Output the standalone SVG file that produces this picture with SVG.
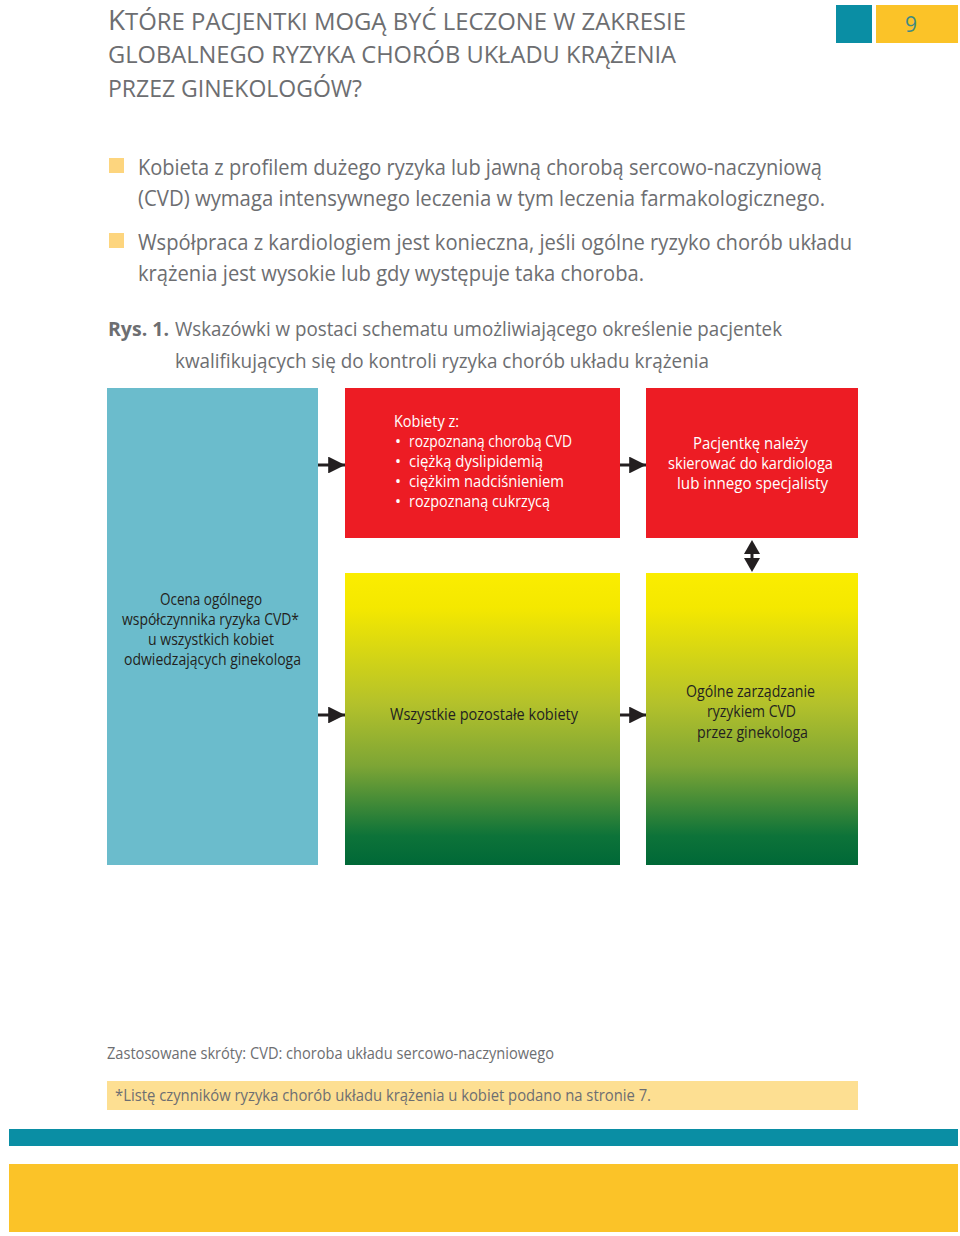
<svg xmlns="http://www.w3.org/2000/svg" width="960" height="1236" viewBox="0 0 960 1236">
<style>
.t{font-family:"Liberation Sans Narrow","Open Sans","Liberation Sans",sans-serif;}
.title{fill:#6d6e71;font-size:24px;font-weight:500;}
.body{fill:#6d6e71;font-size:21px;}
.cap{fill:#6d6e71;font-size:20px;}
.w{fill:#ffffff;font-size:16px;font-weight:500;}
.d{fill:#231f20;font-size:16px;font-weight:500;}
.foot{fill:#6d6e71;font-size:16px;}
.conn{stroke:#231f20;stroke-width:3;fill:none;}
.head{fill:#231f20;}
</style>
<defs>
<linearGradient id="yg" x1="0" y1="0" x2="0" y2="1">
<stop offset="0" stop-color="#fbed00"/>
<stop offset="0.12" stop-color="#f4e800"/>
<stop offset="0.45" stop-color="#b3c12b"/>
<stop offset="0.66" stop-color="#7da535"/>
<stop offset="0.9" stop-color="#0d7339"/>
<stop offset="1" stop-color="#006837"/>
</linearGradient>
<marker id="ah" viewBox="0 0 10 10" refX="10" refY="5" markerWidth="6" markerHeight="5.6" markerUnits="strokeWidth" orient="auto-start-reverse">
<path d="M0,0 L10,5 L0,10 Z" fill="#231f20"/>
</marker>
</defs>

<!-- header -->
<rect x="836" y="5" width="36" height="38" fill="#0a8ea4"/>
<rect x="876" y="5" width="82" height="38" fill="#fbc328"/>
<text class="t" x="911" y="32" text-anchor="middle" font-size="21" fill="#3f8a84">9</text>

<text class="t title" x="108" y="30" textLength="578" lengthAdjust="spacingAndGlyphs"><tspan font-size="28">K</tspan>TÓRE PACJENTKI MOGĄ BYĆ LECZONE W ZAKRESIE</text>
<text class="t title" x="108" y="63" textLength="568" lengthAdjust="spacingAndGlyphs">GLOBALNEGO RYZYKA CHORÓB UKŁADU KRĄŻENIA</text>
<text class="t title" x="108" y="97" textLength="254" lengthAdjust="spacingAndGlyphs">PRZEZ GINEKOLOGÓW?</text>

<!-- bullets -->
<rect x="109" y="158" width="15" height="15" fill="#fdd57e"/>
<text class="t body" x="138" y="175" textLength="684" lengthAdjust="spacingAndGlyphs">Kobieta z profilem dużego ryzyka lub jawną chorobą sercowo-naczyniową</text>
<text class="t body" x="138" y="206" textLength="687" lengthAdjust="spacingAndGlyphs">(CVD) wymaga intensywnego leczenia w tym leczenia farmakologicznego.</text>
<rect x="109" y="233" width="15" height="15" fill="#fdd57e"/>
<text class="t body" x="138" y="250" textLength="714" lengthAdjust="spacingAndGlyphs">Współpraca z kardiologiem jest konieczna, jeśli ogólne ryzyko chorób układu</text>
<text class="t body" x="138" y="281" textLength="506" lengthAdjust="spacingAndGlyphs">krążenia jest wysokie lub gdy występuje taka choroba.</text>

<!-- caption -->
<text class="t cap" x="108" y="336" font-weight="bold" textLength="61" lengthAdjust="spacingAndGlyphs">Rys. 1.</text>
<text class="t cap" x="175" y="336" textLength="607" lengthAdjust="spacingAndGlyphs">Wskazówki w postaci schematu umożliwiającego określenie pacjentek</text>
<text class="t cap" x="175" y="368" textLength="534" lengthAdjust="spacingAndGlyphs">kwalifikujących się do kontroli ryzyka chorób układu krążenia</text>

<!-- connectors -->
<g id="connectors">
<line class="conn" x1="318" y1="465" x2="345" y2="465" marker-end="url(#ah)"/>
<line class="conn" x1="620" y1="465" x2="646" y2="465" marker-end="url(#ah)"/>
<line class="conn" x1="318" y1="715" x2="345" y2="715" marker-end="url(#ah)"/>
<line class="conn" x1="620" y1="715" x2="646" y2="715" marker-end="url(#ah)"/>
<line class="conn" x1="752" y1="550" x2="752" y2="562"/>
<path class="head" d="M752,540 L760,554 L744,554 Z"/>
<path class="head" d="M752,572 L760,558 L744,558 Z"/>
</g>

<!-- nodes -->
<g id="assess">
<rect x="107" y="388" width="211" height="477" fill="#6bbccc"/>
<text class="t d" x="160" y="605" textLength="102" lengthAdjust="spacingAndGlyphs">Ocena ogólnego</text>
<text class="t d" x="122" y="625" textLength="177" lengthAdjust="spacingAndGlyphs">współczynnika ryzyka CVD*</text>
<text class="t d" x="148" y="645" textLength="126" lengthAdjust="spacingAndGlyphs">u wszystkich kobiet</text>
<text class="t d" x="124" y="665" textLength="177" lengthAdjust="spacingAndGlyphs">odwiedzających ginekologa</text>
</g>

<g id="highrisk">
<rect x="345" y="388" width="275" height="150" fill="#ed1c24"/>
<text class="t w" x="394" y="427" textLength="65" lengthAdjust="spacingAndGlyphs">Kobiety z:</text>
<text class="t w" x="395" y="447">•</text>
<text class="t w" x="409" y="447" textLength="163" lengthAdjust="spacingAndGlyphs">rozpoznaną chorobą CVD</text>
<text class="t w" x="395" y="467">•</text>
<text class="t w" x="409" y="467" textLength="134" lengthAdjust="spacingAndGlyphs">ciężką dyslipidemią</text>
<text class="t w" x="395" y="487">•</text>
<text class="t w" x="409" y="487" textLength="155" lengthAdjust="spacingAndGlyphs">ciężkim nadciśnieniem</text>
<text class="t w" x="395" y="507">•</text>
<text class="t w" x="409" y="507" textLength="141" lengthAdjust="spacingAndGlyphs">rozpoznaną cukrzycą</text>
</g>

<g id="refer">
<rect x="646" y="388" width="212" height="150" fill="#ed1c24"/>
<text class="t w" x="693" y="449" textLength="115" lengthAdjust="spacingAndGlyphs">Pacjentkę należy</text>
<text class="t w" x="668" y="469" textLength="165" lengthAdjust="spacingAndGlyphs">skierować do kardiologa</text>
<text class="t w" x="677" y="489" textLength="151" lengthAdjust="spacingAndGlyphs">lub innego specjalisty</text>
</g>

<g id="others">
<rect x="345" y="573" width="275" height="292" fill="url(#yg)"/>
<text class="t d" x="390" y="720" textLength="188" lengthAdjust="spacingAndGlyphs">Wszystkie pozostałe kobiety</text>
</g>

<g id="manage">
<rect x="646" y="573" width="212" height="292" fill="url(#yg)"/>
<text class="t d" x="686" y="697" textLength="129" lengthAdjust="spacingAndGlyphs">Ogólne zarządzanie</text>
<text class="t d" x="707" y="717" textLength="89" lengthAdjust="spacingAndGlyphs">ryzykiem CVD</text>
<text class="t d" x="697" y="738" textLength="111" lengthAdjust="spacingAndGlyphs">przez ginekologa</text>
</g>

<!-- footer -->
<text class="t foot" x="107" y="1059" textLength="447" lengthAdjust="spacingAndGlyphs">Zastosowane skróty: CVD: choroba układu sercowo-naczyniowego</text>
<rect x="107" y="1081" width="751" height="29" fill="#fddf92"/>
<text class="t foot" x="115" y="1101" textLength="536" lengthAdjust="spacingAndGlyphs">*Listę czynników ryzyka chorób układu krążenia u kobiet podano na stronie 7.</text>

<rect x="9" y="1129" width="949" height="17" fill="#0a8ea4"/>
<rect x="9" y="1164" width="949" height="68" fill="#fbc328"/>
</svg>
